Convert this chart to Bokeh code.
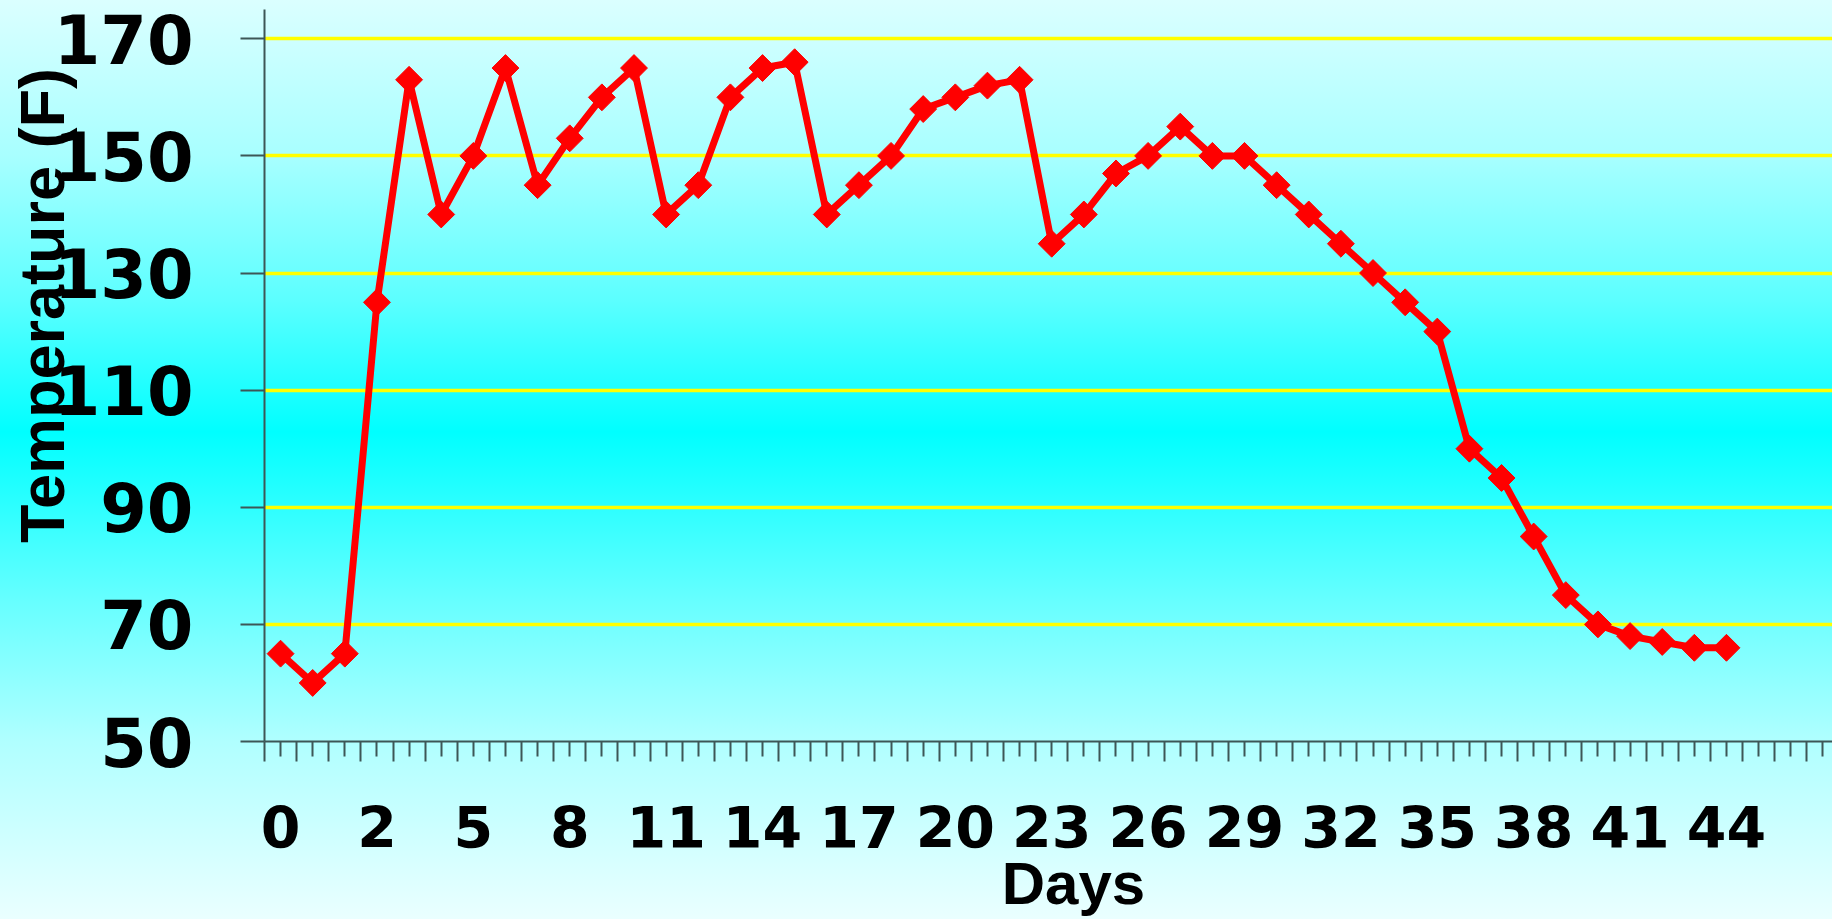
import math
from bokeh.plotting import figure
from bokeh.models import FixedTicker, Range1d
from bokeh.embed import file_html
from bokeh.resources import INLINE

# ---- data ----
temps = [65, 60, 65, 125, 163, 140, 150, 165, 145, 153,
         160, 165, 140, 145, 160, 165, 166, 140, 145, 150,
         158, 160, 162, 163, 135, 140, 147, 150, 155, 150,
         150, 145, 140, 135, 130, 125, 120, 100, 95, 85,
         75, 70, 68, 67, 66, 66]
day_labels = ["0", "2", "5", "8", "11", "14", "17", "20", "23", "26",
              "29", "32", "35", "38", "41", "44"]
label_every = 3
n_slots = 49          # category slots on the axis (extra empty ones at the end)
y_ticks = [50, 70, 90, 110, 130, 150, 170]
y_grid = [70, 90, 110, 130, 150, 170]
x_title = "Days"
y_title = "Temperature (F)"

x = list(range(len(temps)))

p = figure(width=1832, height=919, output_backend="svg", toolbar_location=None,
           title=None, x_range=Range1d(-0.5, 48.3), y_range=Range1d(50, 175),
           min_border_left=264, min_border_right=0, min_border_top=9,
           min_border_bottom=176)
p.background_fill_color = None
p.border_fill_color = None
p.outline_line_color = None
p.styles = {"background": "linear-gradient(to bottom, #dbffff 0%, #a8ffff 16.9%, "
                          "#5cffff 32.6%, #00ffff 47%, #66ffff 65.3%, "
                          "#b0ffff 80.7%, #eaffff 100%)"}

axis_col = "#3d5656"
nb = "\u00a0"

# y axis
p.yaxis.ticker = FixedTicker(ticks=y_ticks)
p.yaxis.axis_line_color = axis_col
p.yaxis.axis_line_width = 2
p.yaxis.major_tick_line_color = axis_col
p.yaxis.major_tick_line_width = 2
p.yaxis.major_tick_out = 24
p.yaxis.major_tick_in = 0
p.yaxis.minor_tick_line_color = None
p.yaxis.major_label_text_font = "DejaVu Sans"
p.yaxis.major_label_text_font_style = "bold"
p.yaxis.major_label_text_font_size = "67px"
p.yaxis.major_label_text_color = "black"
p.yaxis.major_label_standoff = 47
# title shifted up (leading spaces) and pulled over the tick labels like the reference
p.yaxis.axis_label = nb * 8 + y_title
p.yaxis.axis_label_text_font = "Liberation Sans"
p.yaxis.axis_label_text_font_style = "bold"
p.yaxis.axis_label_text_font_size = "63px"
p.yaxis.axis_label_text_color = "black"
p.yaxis.axis_label_standoff = -26

# x axis: labels on category centres, long ticks on category boundaries
p.xaxis.ticker = FixedTicker(ticks=list(range(n_slots)),
                             minor_ticks=[i - 0.5 for i in range(n_slots + 1)])
overrides = {i: "" for i in range(n_slots)}
for k, lab in enumerate(day_labels):
    overrides[k * label_every] = lab
p.xaxis.major_label_overrides = overrides
p.xaxis.axis_line_color = axis_col
p.xaxis.axis_line_width = 2
p.xaxis.major_tick_line_color = axis_col
p.xaxis.major_tick_line_width = 2
p.xaxis.major_tick_out = 15
p.xaxis.major_tick_in = 0
p.xaxis.minor_tick_line_color = axis_col
p.xaxis.minor_tick_line_width = 2
p.xaxis.minor_tick_out = 20
p.xaxis.minor_tick_in = 0
p.xaxis.major_label_text_font = "DejaVu Sans"
p.xaxis.major_label_text_font_style = "bold"
p.xaxis.major_label_text_font_size = "57px"
p.xaxis.major_label_text_color = "black"
p.xaxis.major_label_standoff = 44
p.xaxis.axis_label = nb * 3 + x_title
p.xaxis.axis_label_text_font = "Liberation Sans"
p.xaxis.axis_label_text_font_style = "bold"
p.xaxis.axis_label_text_font_size = "60px"
p.xaxis.axis_label_text_color = "black"
p.xaxis.axis_label_standoff = -1

# grid
p.xgrid.visible = False
p.ygrid.ticker = FixedTicker(ticks=y_grid)
p.ygrid.grid_line_color = "#ffff00"
p.ygrid.grid_line_width = 3.5

# series
p.line(x, temps, line_color="#ff0000", line_width=7)
p.scatter(x, temps, marker="square", size=19, angle=math.pi / 4,
          fill_color="#ff0000", line_color="#ff0000")

open("out.html", "w").write(file_html(p, INLINE))
